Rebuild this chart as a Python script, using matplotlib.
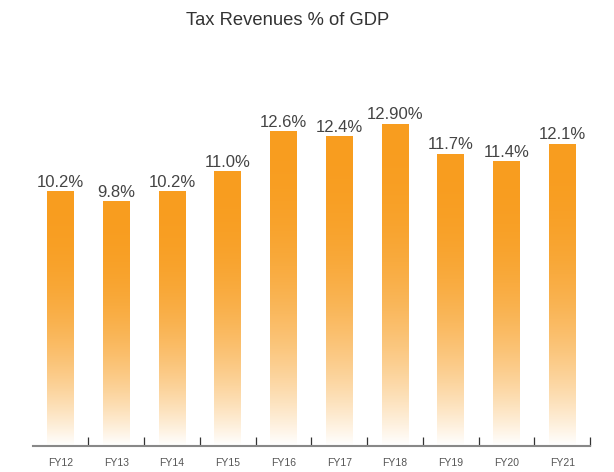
import numpy as np
import matplotlib
matplotlib.use("Agg")
import matplotlib.pyplot as plt
from matplotlib.colors import to_rgb

years = ["FY12", "FY13", "FY14", "FY15", "FY16", "FY17", "FY18", "FY19", "FY20", "FY21"]
tax_pct = [10.2, 9.8, 10.2, 11.0, 12.6, 12.4, 12.9, 11.7, 11.4, 12.1]
bar_labels = ["10.2%", "9.8%", "10.2%", "11.0%", "12.6%", "12.4%", "12.90%", "11.7%", "11.4%", "12.1%"]

plt.rcParams['font.family'] = ['Liberation Sans', 'DejaVu Sans']

fig = plt.figure(figsize=(6.14, 4.72), dpi=100)
ax = fig.add_axes([0.0533, 0.0551, 0.9077, 0.845])

# vertical gradient: orange at top fading to white at the base
orange = np.array(to_rgb("#F89D1F"))
white = np.ones(3)
s = np.linspace(0, 1, 256)[:, None]
f = 1 - (1 - s) ** 2.3
grad = white * (1 - f) + orange * f
grad = grad[:, None, :]

width = 0.48
for i, v in enumerate(tax_pct):
    ax.imshow(grad, extent=[i - width / 2, i + width / 2, 0, v],
              origin="lower", aspect="auto", interpolation="bilinear", zorder=2)
    ax.annotate(bar_labels[i], (i, v), xytext=(0, 3.6), textcoords="offset points",
                ha="center", va="baseline", fontsize=12, color="#444444")

ax.set_xlim(-0.5, 9.5)
ax.set_ylim(0, 16)

for side in ["top", "left", "right"]:
    ax.spines[side].set_visible(False)
ax.spines["bottom"].set_color("#888888")
ax.spines["bottom"].set_linewidth(1.5)

ax.set_yticks([])
ax.set_xticks(range(len(years)))
ax.set_xticklabels(years, fontsize=7.5, color="#555555")
ax.tick_params(axis="x", which="major", length=0, pad=8.6)
ax.set_xticks(np.arange(0.5, 10, 1), minor=True)
ax.tick_params(axis="x", which="minor", direction="in", length=6.5, width=0.9, color="#333333")

fig.text(287.5 / 614, 1 - 20.5 / 472, "Tax Revenues % of GDP", ha="center", va="center",
         fontsize=13.2, color="#333333")

fig.savefig("out.png", dpi=100)
